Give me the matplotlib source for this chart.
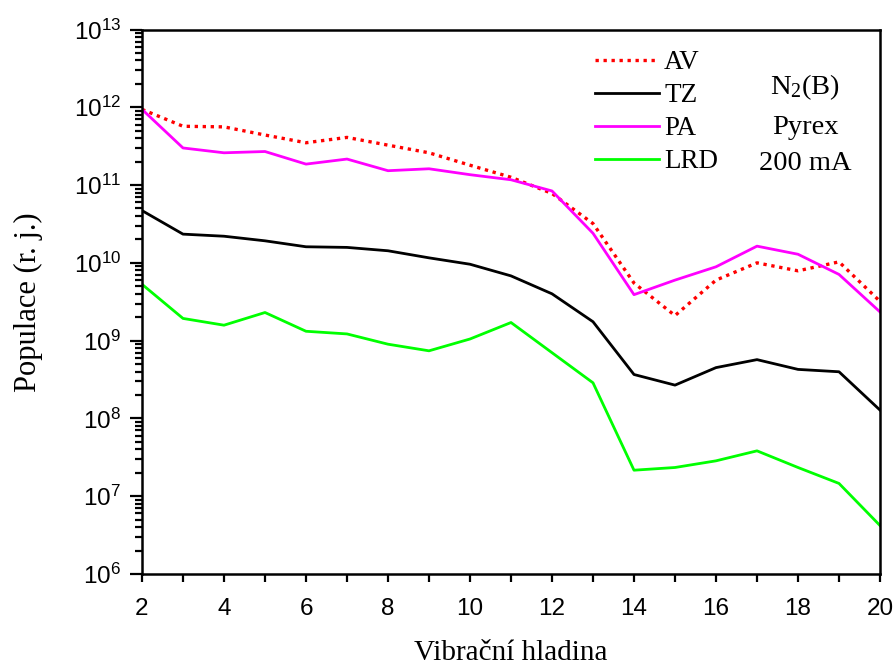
import numpy as np
import matplotlib
matplotlib.use('Agg')
import matplotlib.pyplot as plt
from matplotlib.ticker import FixedLocator, FuncFormatter, NullFormatter

plt.rcParams['mathtext.default'] = 'regular'

level = [2, 3, 4, 5, 6, 7, 8, 9, 10, 11, 12, 13, 14, 15, 16, 17, 18, 19, 20]

av = [9.4e11, 5.7e11, 5.6e11, 4.4e11, 3.5e11, 4.1e11, 3.26e11, 2.6e11, 1.8e11, 1.26e11,
      7.8e10, 3.2e10, 5.5e9, 2.1e9, 6.0e9, 1.0e10, 7.9e9, 1.03e10, 3.2e9]
tz = [4.7e10, 2.34e10, 2.2e10, 1.92e10, 1.61e10, 1.58e10, 1.43e10, 1.16e10, 9.6e9, 6.8e9,
      4.0e9, 1.75e9, 3.67e8, 2.68e8, 4.5e8, 5.7e8, 4.27e8, 3.98e8, 1.28e8]
pa = [9.4e11, 3.0e11, 2.6e11, 2.7e11, 1.86e11, 2.16e11, 1.53e11, 1.62e11, 1.36e11, 1.17e11,
      8.4e10, 2.4e10, 3.9e9, 6.0e9, 8.9e9, 1.64e10, 1.29e10, 7.1e9, 2.34e9]
lrd = [5.3e9, 1.93e9, 1.58e9, 2.3e9, 1.32e9, 1.22e9, 9.0e8, 7.4e8, 1.05e9, 1.71e9,
       7.0e8, 2.87e8, 2.16e7, 2.34e7, 2.85e7, 3.83e7, 2.34e7, 1.46e7, 4.2e6]

serif = 'Liberation Serif'
sans = 'Liberation Sans'

fig = plt.figure(figsize=(8.96, 6.66), dpi=100)
ax = fig.add_axes([142/896, 1 - 574/666, (880-142)/896, (574-29.5)/666])

ax.plot(level, av, color='#ff0000', lw=2.4, ls=(0, (1, 1.4)), label='AV')
ax.plot(level, tz, color='black', lw=2.0, label='TZ')
ax.plot(level, pa, color='#ff00ff', lw=2.0, label='PA')
ax.plot(level, lrd, color='#00ff00', lw=2.0, label='LRD')

ax.set_yscale('log')
ax.set_xlim(2, 20)
ax.set_ylim(1e6, 1e13)

decades = range(6, 14)
ax.xaxis.set_major_locator(FixedLocator(range(2, 21, 2)))
ax.xaxis.set_minor_locator(FixedLocator(range(3, 20, 2)))
ax.yaxis.set_major_locator(FixedLocator([10.0**d for d in decades]))
ax.yaxis.set_minor_locator(FixedLocator([m * 10.0**d for d in range(6, 13) for m in range(2, 10)]))
ax.yaxis.set_minor_formatter(NullFormatter())
ax.yaxis.set_major_formatter(FuncFormatter(lambda v, p: r'$10^{%d}$' % round(np.log10(v))))

ax.tick_params(which='both', direction='out', width=1.6, top=False, right=False)
ax.tick_params(axis='x', which='both', length=6)
ax.tick_params(axis='y', which='major', length=9)
ax.tick_params(axis='y', which='minor', length=5)
ax.tick_params(axis='x', which='major', labelsize=17.5, pad=11)
ax.tick_params(axis='y', which='major', labelsize=17.5, pad=6)
for lab in ax.get_xticklabels() + ax.get_yticklabels():
    lab.set_fontfamily(sans)

for sp in ax.spines.values():
    sp.set_linewidth(1.8)

ax.set_xlabel('Vibrační hladina', family=serif, fontsize=21, labelpad=15)
ax.set_ylabel('Populace (r. j.)', family=serif, fontsize=22, labelpad=22)

leg = ax.legend(loc='upper left', bbox_to_anchor=(595/896, 1 - 50/666), bbox_transform=fig.transFigure,
                frameon=False, borderpad=0, borderaxespad=0, handlelength=2.35, handletextpad=0.2,
                labelspacing=0.3, prop={'family': serif, 'size': 19.5})

ax.text(805/896, 1 - 87/666, 'N$_2$(B)', transform=fig.transFigure, family=serif, fontsize=20.5,
        ha='center', va='center')
ax.text(805/896, 1 - 128/666, 'Pyrex', transform=fig.transFigure, family=serif, fontsize=20.5,
        ha='center', va='center')
ax.text(805/896, 1 - 163/666, '200 mA', transform=fig.transFigure, family=serif, fontsize=20.5,
        ha='center', va='center')

fig.savefig('out.png', dpi=100)
